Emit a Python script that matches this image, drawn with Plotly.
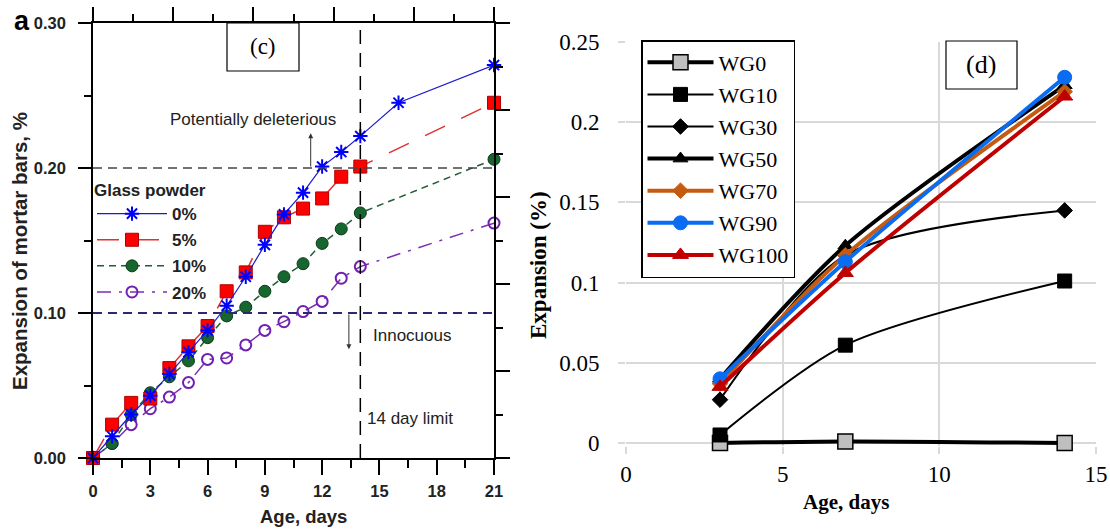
import plotly.graph_objects as go

W, H = 1110, 529
SANS = "Liberation Sans, Arial, sans-serif"
SERIF = "Liberation Serif, Times New Roman, serif"

# ---------------- Panel (c) data: expansion of mortar bars, % ----------------
gp0_days = [0, 1, 2, 3, 4, 5, 6, 7, 8, 9, 10, 11, 12, 13, 14, 16, 21]
gp0_exp = [0, 0.015, 0.030, 0.043, 0.058, 0.073, 0.088, 0.105, 0.125, 0.147,
           0.168, 0.183, 0.201, 0.211, 0.222, 0.245, 0.271]
gp5_days = [0, 1, 2, 3, 4, 5, 6, 7, 8, 9, 10, 11, 12, 13, 14, 21]
gp5_exp = [0, 0.023, 0.038, 0.041, 0.062, 0.077, 0.091, 0.115, 0.128, 0.156,
           0.166, 0.172, 0.179, 0.194, 0.201, 0.245]
gp10_days = [0, 1, 2, 3, 4, 5, 6, 7, 8, 9, 10, 11, 12, 13, 14, 21]
gp10_exp = [0, 0.010, 0.030, 0.045, 0.056, 0.067, 0.083, 0.098, 0.104, 0.115,
            0.125, 0.134, 0.148, 0.158, 0.169, 0.206]
gp20_days = [0, 1, 2, 3, 4, 5, 6, 7, 8, 9, 10, 11, 12, 13, 14, 21]
gp20_exp = [0, 0.010, 0.023, 0.034, 0.042, 0.052, 0.068, 0.069, 0.078, 0.088,
            0.094, 0.101, 0.108, 0.124, 0.132, 0.162]
deleterious_limit = 0.20
innocuous_limit = 0.10
day_limit = 14

# ---------------- Panel (d) data: expansion (%) ----------------
age_d = [3, 7, 14]
wg_names = ["WG0", "WG10", "WG30", "WG50", "WG70", "WG90", "WG100"]
WG0 = [0.000, 0.001, 0.000]
WG10 = [0.005, 0.061, 0.101]
WG30 = [0.027, 0.117, 0.145]
WG50 = [0.040, 0.123, 0.223]
WG70 = [0.037, 0.117, 0.219]
WG90 = [0.040, 0.113, 0.228]
WG100 = [0.035, 0.106, 0.216]


def px(x):
    return x / W


def py(y):
    return 1 - y / H


fig = go.Figure()

# ---- panel (c) traces (drawn back to front) ----
fig.add_trace(go.Scatter(
    x=gp20_days, y=gp20_exp, name="20%", mode="lines+markers", legendrank=4,
    line=dict(color="#7a2fb0", width=1.5, dash="14px,8px,3px,8px"),
    marker=dict(symbol="circle-open", size=11, color="#7020b0", line=dict(width=2)),
    cliponaxis=False,
    xaxis="x", yaxis="y", legend="legend", legendgroup="g20"))
fig.add_trace(go.Scatter(
    x=gp10_days, y=gp10_exp, name="10%", mode="lines+markers", legendrank=3,
    line=dict(color="#1f5f35", width=1.5, dash="7px,5px"),
    marker=dict(symbol="circle", size=12, color="#17662f", line=dict(color="#0a3a18", width=1)),
    cliponaxis=False,
    xaxis="x", yaxis="y", legend="legend", legendgroup="g10"))
fig.add_trace(go.Scatter(
    x=gp5_days, y=gp5_exp, name="5%", mode="lines+markers", legendrank=2,
    line=dict(color="#e03030", width=1.5, dash="22px,18px"),
    marker=dict(symbol="square", size=13, color="#ff0000", line=dict(color="#b00000", width=1)),
    cliponaxis=False,
    xaxis="x", yaxis="y", legend="legend", legendgroup="g5"))
fig.add_trace(go.Scatter(
    x=gp0_days, y=gp0_exp, name="0%", mode="lines+markers", legendrank=1,
    line=dict(color="#1a1ad0", width=1.2),
    marker=dict(symbol="asterisk-open", size=12, color="#0000ff", line=dict(color="#0000ff", width=2)),
    cliponaxis=False,
    xaxis="x", yaxis="y", legend="legend", legendgroup="g0"))
# empty trace so that the top / right tick axes of panel (c) are laid out
fig.add_trace(go.Scatter(x=[], y=[], xaxis="x3", yaxis="y3", showlegend=False,
                         hoverinfo="skip"))

# ---- panel (d) traces ----
wg_series = [WG0, WG10, WG30, WG50, WG70, WG90, WG100]
wg_style = [
    dict(lc="black", lw=4, sym="square", ms=15, mc="#bfbfbf", mlc="black", mlw=1.5),
    dict(lc="black", lw=2, sym="square", ms=14, mc="black", mlc="black", mlw=1),
    dict(lc="black", lw=2, sym="diamond", ms=12, mc="black", mlc="black", mlw=1),
    dict(lc="black", lw=4, sym="triangle-up", ms=13, mc="black", mlc="black", mlw=1),
    dict(lc="#c55a11", lw=4, sym="diamond", ms=12, mc="#c55a11", mlc="#c55a11", mlw=1),
    dict(lc="#0a6cf0", lw=4, sym="circle", ms=14, mc="#0a6cf0", mlc="#0a6cf0", mlw=1),
    dict(lc="#c00000", lw=4, sym="triangle-up", ms=14, mc="#c00000", mlc="#c00000", mlw=1),
]
for i, (nm, ys, st) in enumerate(zip(wg_names, wg_series, wg_style)):
    fig.add_trace(go.Scatter(
        x=age_d, y=ys, name=nm, mode="lines+markers",
        line=dict(color=st["lc"], width=st["lw"], shape="spline", smoothing=0.8),
        marker=dict(symbol=st["sym"], size=st["ms"], color=st["mc"],
                    line=dict(color=st["mlc"], width=st["mlw"])),
        cliponaxis=False,
        xaxis="x2", yaxis="y2", legend="legend2", legendgroup="w%d" % i))

axis_c = dict(showline=True, linecolor="black", linewidth=1.5, ticks="outside",
              tickcolor="black", tickwidth=1.5, showgrid=False, zeroline=False,
              automargin=False)
grid_d = dict(showline=False, showgrid=True, gridcolor="#d9d9d9", gridwidth=1.5,
              zeroline=False, ticks="outside", tickcolor="#d9d9d9", ticklen=7,
              tickwidth=1.5, automargin=False,
              tickfont=dict(family=SERIF, size=23, color="black"))

y_pad = 0.0016  # small room below zero so the WG0 line is not clipped
fig.update_layout(
    width=W, height=H, margin=dict(l=0, r=0, t=0, b=0, autoexpand=False),
    paper_bgcolor="white", plot_bgcolor="white",
    xaxis=dict(domain=[px(93), px(494)], range=[0, 21], anchor="y",
               tick0=0, dtick=3, ticklen=15, ticklabelstandoff=2,
               minor=dict(tick0=0, dtick=1.5, ticklen=8, ticks="outside",
                          tickcolor="black", tickwidth=1.5),
               tickfont=dict(family=SANS, size=16.5, color="#222", weight="bold"),
               **axis_c),
    yaxis=dict(domain=[py(458), py(23)], range=[0, 0.30], anchor="x",
               tick0=0, dtick=0.1, tickformat=".2f", ticklen=13, ticklabelstandoff=9,
               minor=dict(tick0=0, dtick=0.05, ticklen=7, ticks="outside",
                          tickcolor="black", tickwidth=1.5),
               tickfont=dict(family=SANS, size=16.5, color="#222", weight="bold"),
               **axis_c),
    xaxis3=dict(overlaying="x", side="top", anchor="y", range=[0, 21],
                tick0=0, dtick=4.2, ticklen=14, showticklabels=False,
                minor=dict(tick0=0, dtick=2.1, ticklen=7, ticks="outside",
                           tickcolor="black", tickwidth=1.5),
                **axis_c),
    yaxis3=dict(overlaying="y", side="right", anchor="x", range=[0, 0.30],
                tick0=0, dtick=0.06, ticklen=14, showticklabels=False,
                minor=dict(tick0=0, dtick=0.03, ticklen=7, ticks="outside",
                           tickcolor="black", tickwidth=1.5),
                **axis_c),
    xaxis2=dict(domain=[px(626), px(1096)], range=[0, 15], anchor="y2",
                tick0=0, dtick=5, ticklabelstandoff=1, **grid_d),
    yaxis2=dict(domain=[py(443 + y_pad * 1604), py(42)], range=[-y_pad, 0.25],
                anchor="x2", tick0=0, dtick=0.05, ticklabelstandoff=14, **grid_d),
    legend=dict(x=px(92), y=py(174), xanchor="left", yanchor="top",
                bgcolor="rgba(0,0,0,0)", borderwidth=0, tracegroupgap=1,
                title=dict(text="Glass powder",
                           font=dict(family=SANS, size=17, color="#222", weight="bold")),
                font=dict(family=SANS, size=17, color="#222", weight="bold"),
                itemwidth=70),
    legend2=dict(x=px(641), y=py(40), xanchor="left", yanchor="top",
                 bgcolor="white", bordercolor="black", borderwidth=1.5,
                 tracegroupgap=0.5, entrywidth=80, entrywidthmode="pixels",
                 font=dict(family=SERIF, size=22, color="black"),
                 itemwidth=66),
)

# reference lines (panel c)
fig.add_shape(type="line", xref="x", yref="y", x0=0, x1=21,
              y0=deleterious_limit, y1=deleterious_limit,
              line=dict(color="#444", width=1.5, dash="9px,6px"))
fig.add_shape(type="line", xref="x", yref="y", x0=0, x1=21,
              y0=innocuous_limit, y1=innocuous_limit,
              line=dict(color="#2a2a70", width=2, dash="9px,6px"))
fig.add_shape(type="line", xref="x", yref="y", x0=day_limit, x1=day_limit,
              y0=0, y1=0.30, line=dict(color="black", width=1.5, dash="14px,9px"))

# (c) and (d) boxes
fig.add_shape(type="rect", xref="paper", yref="paper",
              x0=px(227), x1=px(299), y0=py(71), y1=py(23),
              line=dict(color="black", width=1.2), fillcolor="white")
fig.add_shape(type="rect", xref="paper", yref="paper",
              x0=px(946), x1=px(1017), y0=py(89), y1=py(41),
              line=dict(color="black", width=1.2), fillcolor="white")

ann = []


def txt(x, y, s, size, family=SANS, bold=False, angle=0, color="#222"):
    ann.append(dict(x=px(x), y=py(y), xref="paper", yref="paper", text=s,
                    showarrow=False, textangle=angle, xanchor="center", yanchor="middle",
                    font=dict(family=family, size=size, color=color,
                              weight="bold" if bold else "normal")))


txt(263, 47, "(c)", 23, SERIF, color="black")
txt(981, 65, "(d)", 26, SERIF, color="black")
txt(22, 21, "a", 27, SANS, bold=True, color="black")
txt(253, 120, "Potentially deleterious", 17)
txt(412, 335, "Innocuous", 17)
txt(410, 418, "14 day limit", 17)
txt(19, 251, "Expansion of mortar bars, %", 20.5, SANS, bold=True, angle=-90)
txt(303, 516, "Age, days", 18.5, SANS, bold=True)
txt(538, 265, "Expansion (%)", 23, SERIF, bold=True, angle=-90, color="black")
txt(846, 502, "Age, days", 21, SERIF, bold=True, color="black")

# arrows
ann.append(dict(x=11.4, y=0.224, ax=11.4, ay=deleterious_limit, xref="x", yref="y",
                axref="x", ayref="y", text="", showarrow=True, arrowhead=2,
                arrowsize=1, arrowwidth=1, arrowcolor="#333"))
ann.append(dict(x=13.4, y=0.075, ax=13.4, ay=innocuous_limit, xref="x", yref="y",
                axref="x", ayref="y", text="", showarrow=True, arrowhead=2,
                arrowsize=1, arrowwidth=1, arrowcolor="#333"))
fig.update_layout(annotations=ann)

fig.write_html("out.html")
